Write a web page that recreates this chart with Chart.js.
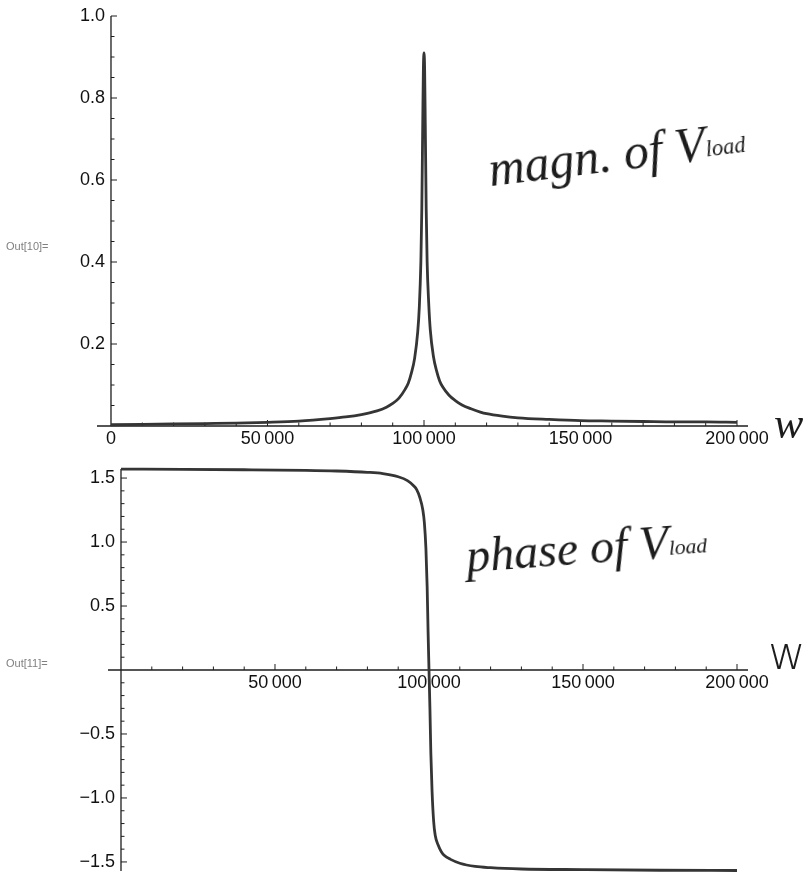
<!DOCTYPE html>
<html lang="en">
<head>
  <meta charset="UTF-8">
  <title>Magnitude and phase of Vload</title>
  <script src="https://cdn.jsdelivr.net/npm/chart.js"></script>
  <style>
    body {
      margin: 0;
      width: 810px;
      height: 875px;
      position: relative;
      overflow: hidden;
      background: #fff;
      font-family: "Liberation Sans", Arial, sans-serif;
    }
    canvas {
      position: absolute;
      left: 0;
    }
    #magChart { top: 0; }
    #phaseChart { top: 450px; }
    .out {
      position: absolute;
      left: 6px;
      font-size: 11px;
      color: #808080;
    }
    .hand {
      position: absolute;
      font-family: "Liberation Serif", serif;
      font-style: italic;
      color: #1c1c1c;
      white-space: nowrap;
      transform-origin: left bottom;
    }
    .hand sub {
      font-size: 45%;
      vertical-align: 0.15em;
    }
  </style>
</head>
<body>
  <canvas id="magChart" width="810" height="450"></canvas>
  <canvas id="phaseChart" width="810" height="425"></canvas>

  <div class="out" style="top:240px">Out[10]=</div>
  <div class="out" style="top:657px">Out[11]=</div>

  <div class="hand" style="left:492px; top:140px; font-size:50px; transform:rotate(-7deg)">magn. of V<sub>load</sub></div>
  <div class="hand" style="left:468px; top:528px; font-size:48px; transform:rotate(-4deg)">phase of V<sub>load</sub></div>
  <div class="hand" style="left:774px; top:398px; font-size:44px">w</div>
  <div class="hand" style="left:768px; top:626px; font-size:46px; font-style:normal; font-family:'DejaVu Sans', sans-serif; font-weight:200">w</div>

  <script>
    // magnitude of Vload vs w
    const magOmega = [0, 10000, 20000, 30000, 40000, 50000, 60000, 70000, 75000, 80000,
      85000, 88000, 90000, 92000, 94000, 95000, 96000, 97000, 98000, 98500,
      99000, 99300, 99600, 99800, 100000, 100200, 100400, 100700, 101000, 101500,
      102000, 103000, 104000, 105000, 106000, 108000, 110000, 112000, 115000, 118000,
      120000, 125000, 130000, 140000, 150000, 160000, 170000, 180000, 190000, 200000];
    const magValues = [0.003, 0.004, 0.005, 0.006, 0.007, 0.009, 0.012, 0.018, 0.022, 0.028,
      0.037, 0.046, 0.055, 0.068, 0.09, 0.105, 0.13, 0.165, 0.23, 0.29,
      0.40, 0.53, 0.74, 0.87, 0.91, 0.87, 0.74, 0.53, 0.40, 0.30,
      0.235, 0.17, 0.135, 0.11, 0.095, 0.075, 0.062, 0.052, 0.042, 0.034,
      0.030, 0.024, 0.020, 0.016, 0.013, 0.012, 0.011, 0.010, 0.010, 0.009];

    // phase of Vload vs w
    const phaseOmega = [0, 20000, 40000, 60000, 70000, 80000, 85000, 90000, 93000, 95000,
      96000, 97000, 98000, 98500, 99000, 99400, 99700, 100000, 100300, 100600,
      101000, 101500, 102000, 103000, 104000, 105000, 107000, 110000, 115000, 120000,
      130000, 150000, 175000, 200000];
    const phaseValues = [1.570, 1.568, 1.565, 1.560, 1.555, 1.545, 1.535, 1.51, 1.48, 1.44,
      1.41, 1.35, 1.25, 1.15, 0.95, 0.65, 0.30, 0.0, -0.30, -0.65,
      -0.95, -1.18, -1.29, -1.37, -1.42, -1.45, -1.48, -1.51, -1.535, -1.545,
      -1.555, -1.560, -1.565, -1.567];

    // ticks
    const magXTicks = [0, 50000, 100000, 150000, 200000];
    const magXLabels = ['0', '50\u2009000', '100\u2009000', '150\u2009000', '200\u2009000'];
    const magYTicks = [0.2, 0.4, 0.6, 0.8, 1.0];
    const magYLabels = ['0.2', '0.4', '0.6', '0.8', '1.0'];
    const phaseXTicks = [50000, 100000, 150000, 200000];
    const phaseXLabels = ['50\u2009000', '100\u2009000', '150\u2009000', '200\u2009000'];
    const phaseYTicks = [-1.5, -1.0, -0.5, 0.5, 1.0, 1.5];
    const phaseYLabels = ['\u22121.5', '\u22121.0', '\u22120.5', '0.5', '1.0', '1.5'];

    // Mathematica style axes: crossing lines, ticks pointing inward
    const mathAxes = {
      id: 'mathAxes',
      beforeDatasetsDraw(chart, args, o) {
        const { ctx, chartArea: a, scales: { x, y } } = chart;
        const x0 = x.getPixelForValue(0);
        const y0 = y.getPixelForValue(0);
        ctx.save();
        ctx.strokeStyle = '#1e1e1e';
        ctx.lineWidth = 1.3;
        ctx.beginPath();
        ctx.moveTo(a.left, y0); ctx.lineTo(a.right, y0);
        ctx.moveTo(x0, a.top); ctx.lineTo(x0, a.bottom);
        ctx.stroke();

        ctx.lineWidth = 1;
        ctx.beginPath();
        for (let i = 1; o.xMinor * i <= o.xEnd + 1; i++) {
          const v = o.xMinor * i;
          const len = o.xTicks.includes(v) ? 6 : 3.5;
          const px = x.getPixelForValue(v);
          ctx.moveTo(px, y0); ctx.lineTo(px, y0 - len);
        }
        for (let i = Math.ceil(y.min / o.yMinor); o.yMinor * i <= y.max; i++) {
          if (i === 0) continue;
          const v = Math.round(o.yMinor * i * 1000) / 1000;
          const len = o.yTicks.includes(v) ? 6 : 3.5;
          const py = y.getPixelForValue(v);
          ctx.moveTo(x0, py); ctx.lineTo(x0 + len, py);
        }
        ctx.stroke();

        ctx.fillStyle = '#111';
        ctx.font = '18px "Liberation Sans", Arial, sans-serif';
        ctx.textAlign = 'center';
        ctx.textBaseline = 'middle';
        o.xTicks.forEach((v, i) => {
          ctx.fillText(o.xLabels[i], x.getPixelForValue(v), y0 + 13);
        });
        ctx.textAlign = 'right';
        o.yTicks.forEach((v, i) => {
          ctx.fillText(o.yLabels[i], x0 - 6, y.getPixelForValue(v));
        });
        ctx.restore();
      }
    };

    function lineOptions(pad, xMin, xMax, yMin, yMax, axes) {
      return {
        responsive: false,
        animation: false,
        layout: { padding: pad },
        plugins: { legend: { display: false }, tooltip: { enabled: false }, mathAxes: axes },
        scales: {
          x: { type: 'linear', display: false, min: xMin, max: xMax },
          y: { type: 'linear', display: false, min: yMin, max: yMax }
        },
        elements: { point: { radius: 0 } }
      };
    }

    new Chart(document.getElementById('magChart'), {
      type: 'line',
      data: {
        datasets: [{
          data: magOmega.map((w, i) => ({ x: w, y: magValues[i] })),
          borderColor: '#353535',
          borderWidth: 2.8,
          cubicInterpolationMode: 'monotone',
          clip: false
        }]
      },
      options: lineOptions({ left: 97, right: 62, top: 16, bottom: 24 }, -4470, 203510, 0, 1,
        { xTicks: magXTicks, xLabels: magXLabels, xMinor: 10000, xEnd: 200000,
          yTicks: magYTicks, yLabels: magYLabels, yMinor: 0.05 }),
      plugins: [mathAxes]
    });

    new Chart(document.getElementById('phaseChart'), {
      type: 'line',
      data: {
        datasets: [{
          data: phaseOmega.map((w, i) => ({ x: w, y: phaseValues[i] })),
          borderColor: '#353535',
          borderWidth: 2.8,
          cubicInterpolationMode: 'monotone',
          clip: false
        }]
      },
      options: lineOptions({ left: 108, right: 62, top: 19, bottom: 4 }, -4220, 203570, -1.5708, 1.5708,
        { xTicks: phaseXTicks, xLabels: phaseXLabels, xMinor: 10000, xEnd: 200000,
          yTicks: phaseYTicks, yLabels: phaseYLabels, yMinor: 0.1 }),
      plugins: [mathAxes]
    });
  </script>
</body>
</html>
